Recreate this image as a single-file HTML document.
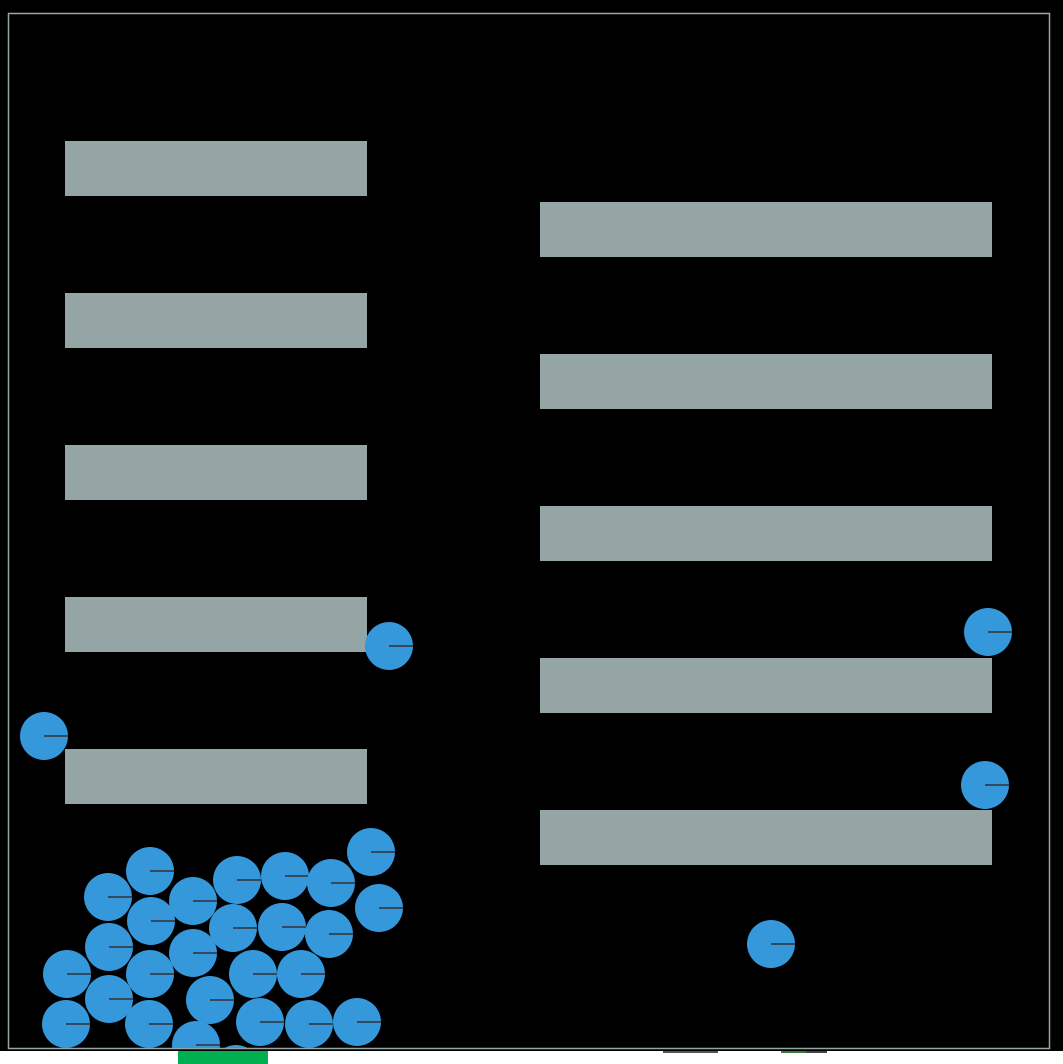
<!DOCTYPE html>
<html><head><meta charset="utf-8"><style>
html,body{margin:0;padding:0;background:#fff;width:1063px;height:1064px;overflow:hidden}
svg{display:block}
</style></head><body>
<svg width="1063" height="1064">
<rect x="0" y="0" width="1063" height="1051" fill="#000"/>
<rect x="8.5" y="13.5" width="1041" height="1035" fill="none" stroke="#95a5a6" stroke-width="1.5"/>
<g id="walls"></g>
<defs><clipPath id="clip"><rect x="9" y="14" width="1040" height="1034"/></clipPath></defs>
<g id="balls" clip-path="url(#clip)"></g>
<rect x="178" y="1051" width="90" height="13" fill="#00b050"/>
<rect x="663" y="1051" width="55" height="2" fill="#555"/>
<rect x="781" y="1051" width="25" height="2" fill="#3a7a3a"/>
<rect x="806" y="1051" width="21" height="2" fill="#444"/>
</svg>
<script>
const wallX=[65,65,65,65,65,540,540,540,540,540];
const wallY=[141,293,445,597,749,202,354,506,658,810];
const wallW=[302,302,302,302,302,452,452,452,452,452];
const ballX=[44,389,988,985,771,150,108,237,285,331,371,193,151,233,282,329,379,109,193,67,150,253,301,109,210,66,149,260,309,357,196,236];
const ballY=[736,646,632,785,944,871,897,880,876,883,852,901,921,928,927,934,908,947,953,974,974,974,974,999,1000,1024,1024,1022,1024,1022,1045,1069];
const NS='http://www.w3.org/2000/svg';
const wg=document.getElementById('walls');
for(let i=0;i<wallX.length;i++){
  const r=document.createElementNS(NS,'rect');
  r.setAttribute('x',wallX[i]);r.setAttribute('y',wallY[i]);
  r.setAttribute('width',wallW[i]);r.setAttribute('height',55);
  r.setAttribute('fill','#95a5a6');
  
  
  wg.appendChild(r);
}
const bg=document.getElementById('balls');
for(let i=0;i<ballX.length;i++){
  const g=document.createElementNS(NS,'g');
  
  
  const c=document.createElementNS(NS,'circle');
  c.setAttribute('cx',ballX[i]);c.setAttribute('cy',ballY[i]);c.setAttribute('r',24);
  c.setAttribute('fill','#3498db');
  const l=document.createElementNS(NS,'line');
  l.setAttribute('x1',ballX[i]);l.setAttribute('y1',ballY[i]);
  l.setAttribute('x2',ballX[i]+24);l.setAttribute('y2',ballY[i]);
  l.setAttribute('stroke','#34495e');l.setAttribute('stroke-width',2);
  g.appendChild(c);g.appendChild(l);bg.appendChild(g);
}
</script>
</body></html>
